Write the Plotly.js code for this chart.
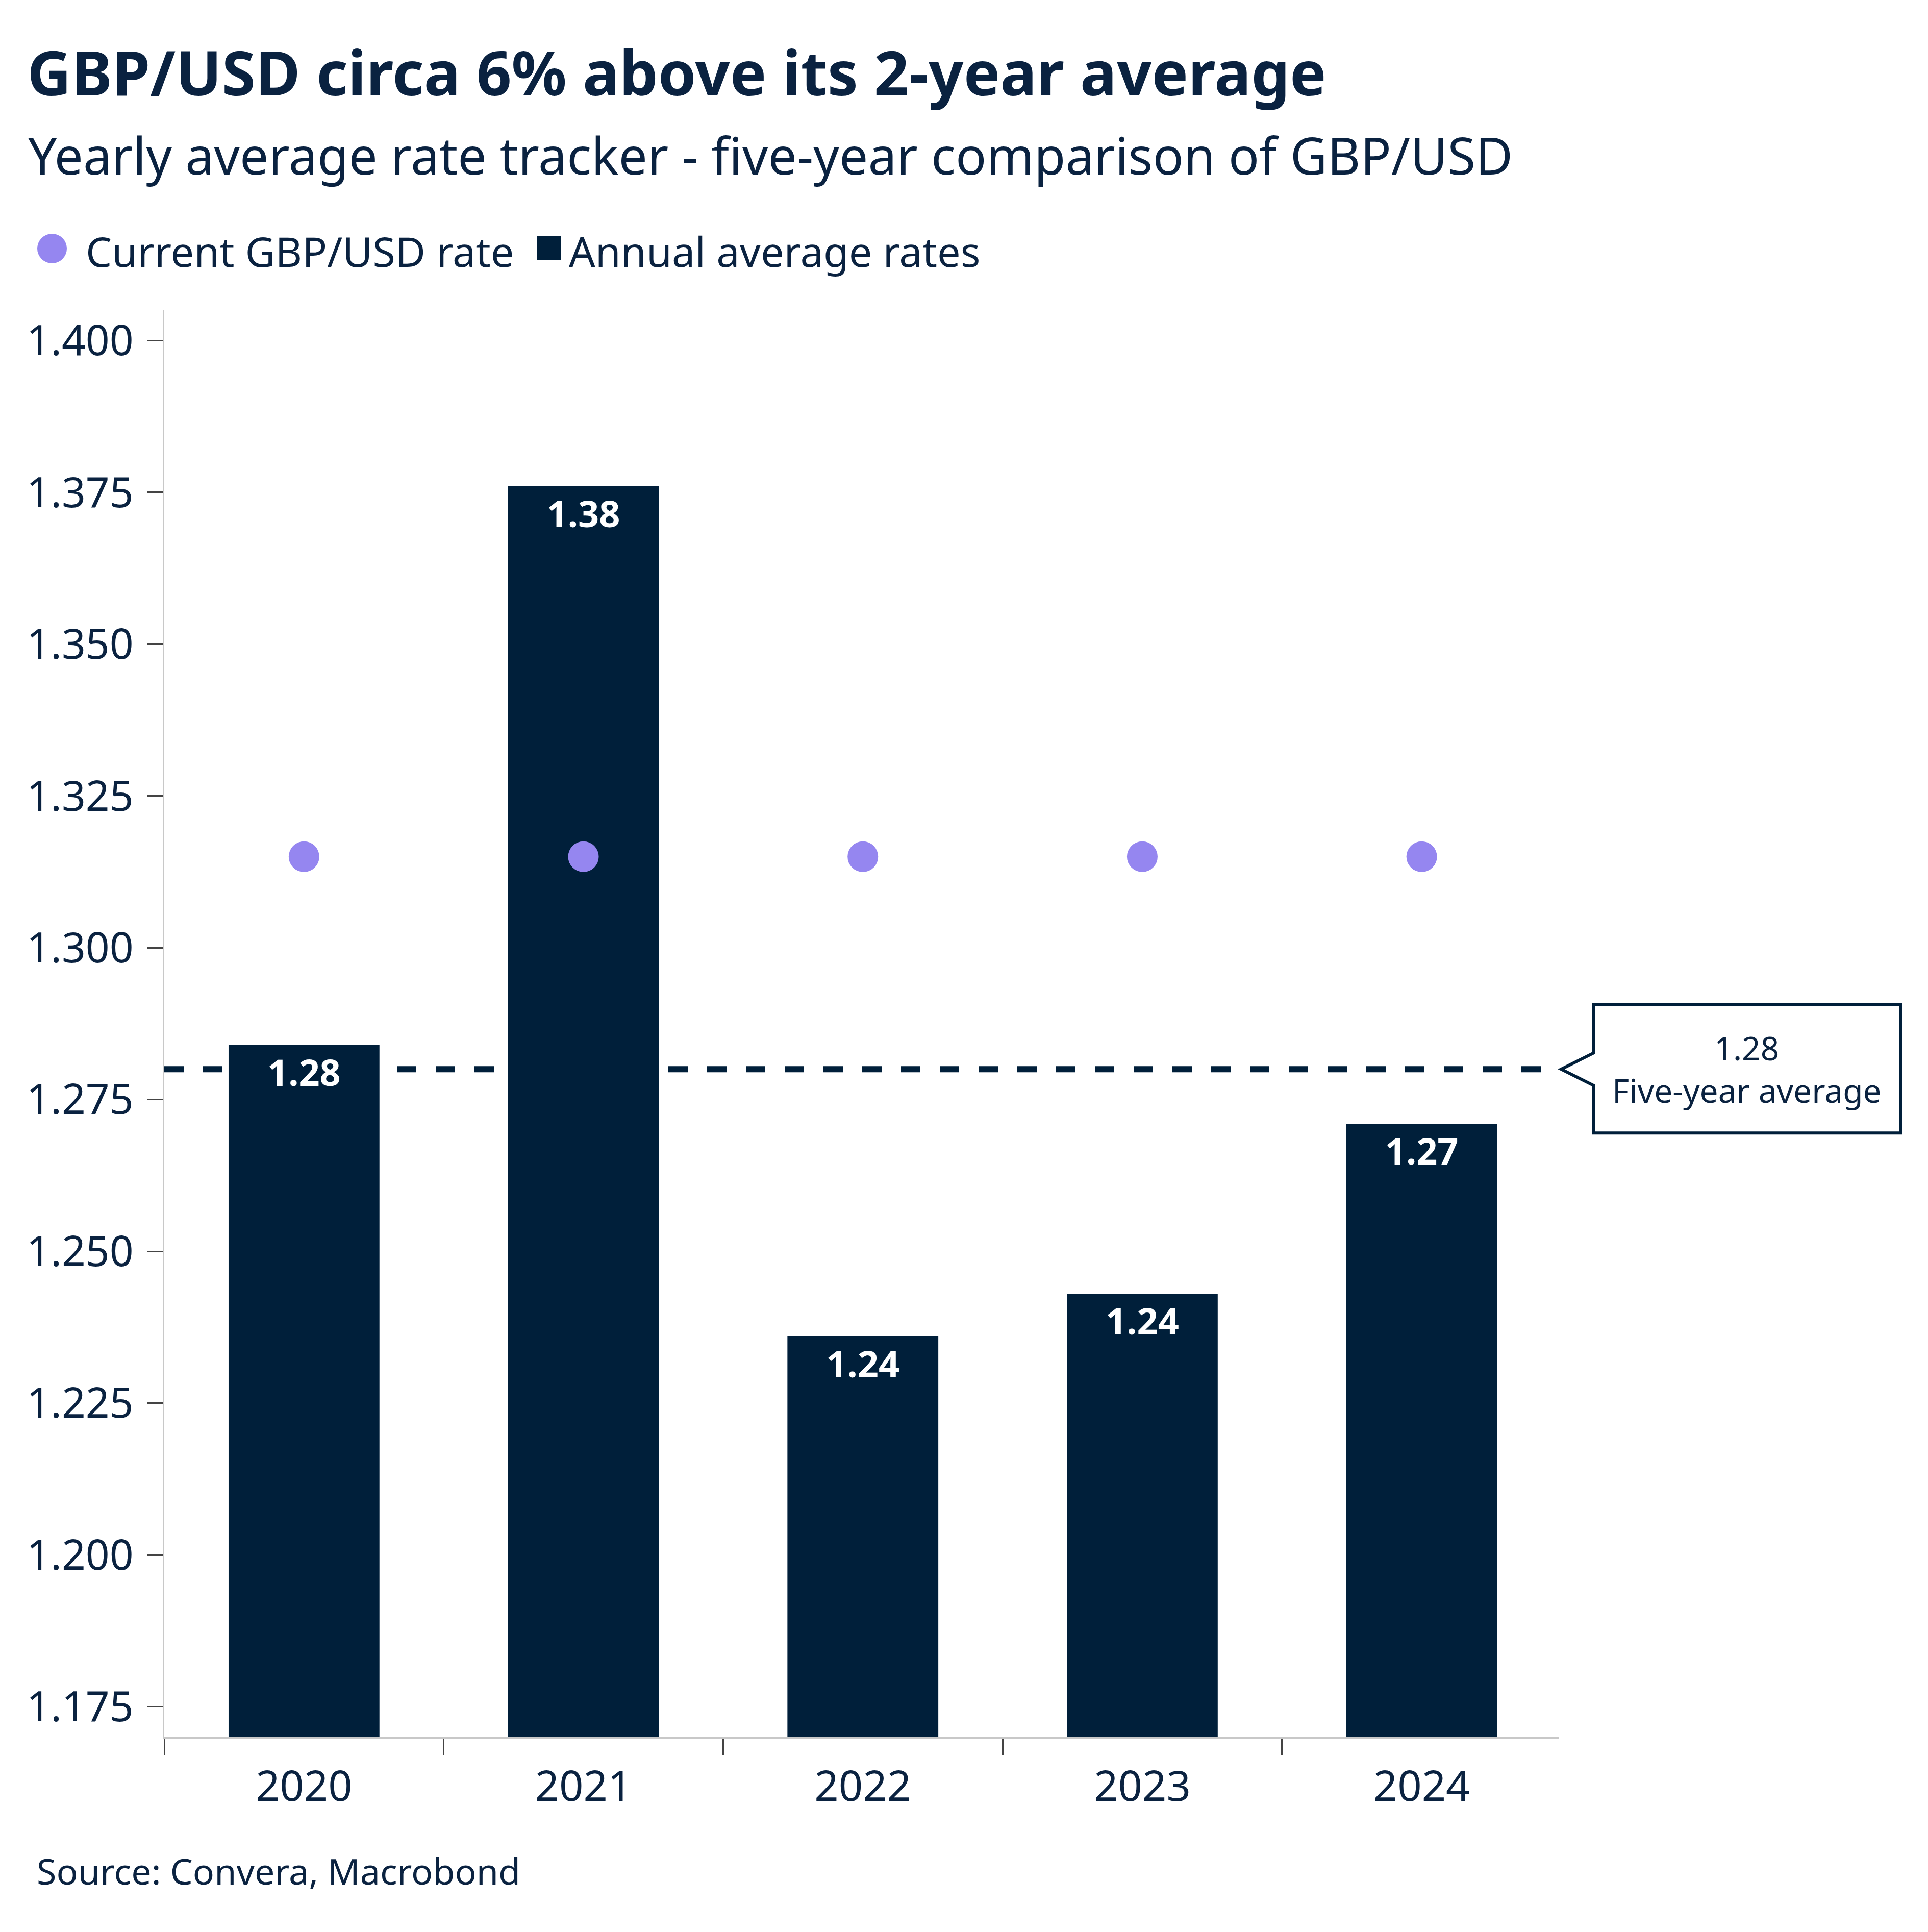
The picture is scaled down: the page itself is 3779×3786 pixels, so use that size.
<!DOCTYPE html>
<html>
<head>
<meta charset="utf-8">
<script src="https://cdn.plot.ly/plotly-3.0.1.min.js"></script>
<style>
  html, body { margin: 0; padding: 0; background: #fff; }
  #chart { width: 3779px; height: 3786px; }
</style>
</head>
<body>
<div id="chart"></div>
<script>
// chart values
const years = ['2020', '2021', '2022', '2023', '2024'];
const annualAverage = [1.284, 1.376, 1.236, 1.243, 1.271];
const currentRate = [1.315, 1.315, 1.315, 1.315, 1.315];
const fiveYearAvg = 1.28;
const yTicks = [1.175, 1.2, 1.225, 1.25, 1.275, 1.3, 1.325, 1.35, 1.375, 1.4];

const navy = '#001f3a';
const textNavy = '#0a2240';
const purple = '#9586f0';
const font = 'Noto Sans, Open Sans, sans-serif';

// plot box in page pixels
const W = 3779, H = 3786;
const L = 322, R = 3055, T = 608, B = 3404;
const px = x => (x - L) / (R - L);
const py = y => (B - y) / (B - T);

const bars = {
  type: 'bar',
  name: 'Annual average rates',
  x: years,
  y: annualAverage,
  marker: { color: navy },
  texttemplate: '%{y:.2f}',
  textposition: 'inside',
  insidetextanchor: 'end',
  textangle: 0,
  textfont: { family: font, size: 72, color: '#ffffff', weight: 'bold' },
  hoverinfo: 'skip'
};

const dots = {
  type: 'scatter',
  mode: 'markers',
  name: 'Current GBP/USD rate',
  x: years,
  y: currentRate,
  marker: { color: purple, size: 60 },
  hoverinfo: 'skip'
};

const layout = {
  width: W,
  height: H,
  margin: { l: L, r: W - R, t: T, b: H - B },
  paper_bgcolor: '#ffffff',
  plot_bgcolor: '#ffffff',
  showlegend: false,
  bargap: 0.46,
  font: { family: font, color: textNavy },
  title: {
    text: '<b>GBP/USD circa 6% above its 2-year average</b>',
    font: { family: font, size: 120, color: textNavy },
    xref: 'container', x: 53 / W, xanchor: 'left',
    yref: 'container', y: 1 - 145 / H, yanchor: 'middle'
  },
  xaxis: {
    type: 'category',
    // right end stops just short of the last boundary so no tick is drawn there
    range: [-0.5, 4.49],
    tickson: 'boundaries',
    ticks: 'outside', ticklen: 33, tickwidth: 3, tickcolor: '#444444',
    ticklabelstandoff: 22,
    showline: true, linecolor: '#c8c8c8', linewidth: 3,
    showgrid: false,
    tickfont: { family: font, size: 83, color: textNavy },
    fixedrange: true
  },
  yaxis: {
    range: [1.17, 1.405],
    tickvals: yTicks,
    tickformat: '.3f',
    ticks: 'outside', ticklen: 31, tickwidth: 3, tickcolor: '#444444',
    ticklabelstandoff: 10,
    showline: true, linecolor: '#c8c8c8', linewidth: 3,
    showgrid: false, zeroline: false,
    tickfont: { family: font, size: 82, color: textNavy },
    fixedrange: true
  },
  shapes: [
    // five-year average line
    {
      type: 'line', layer: 'below',
      xref: 'paper', x0: 0, x1: 1,
      yref: 'y', y0: fiveYearAvg, y1: fiveYearAvg,
      line: { color: navy, width: 12, dash: '38px,38px' }
    },
    // callout box with pointer
    {
      type: 'path',
      xref: 'paper', xanchor: 1, xsizemode: 'pixel',
      yref: 'y', yanchor: fiveYearAvg, ysizemode: 'pixel',
      path: 'M 5 0 L 69 32 L 69 127 L 670 127 L 670 -125 L 69 -125 L 69 -32 Z',
      fillcolor: '#ffffff',
      line: { color: navy, width: 6 }
    },
    // legend symbols
    {
      type: 'circle',
      xref: 'paper', xanchor: px(102), xsizemode: 'pixel',
      yref: 'paper', yanchor: py(487), ysizemode: 'pixel',
      x0: -29, x1: 29, y0: -29, y1: 29,
      fillcolor: purple, line: { width: 0 }
    },
    {
      type: 'rect',
      xref: 'paper', xanchor: px(1076), xsizemode: 'pixel',
      yref: 'paper', yanchor: py(486), ysizemode: 'pixel',
      x0: -23, x1: 23, y0: -24, y1: 24,
      fillcolor: navy, line: { width: 0 }
    }
  ],
  annotations: [
    {
      text: 'Yearly average rate tracker - five-year comparison of GBP/USD',
      xref: 'paper', x: px(53), xanchor: 'left',
      yref: 'paper', y: py(303), yanchor: 'middle',
      showarrow: false,
      font: { family: font, size: 100, color: textNavy }
    },
    {
      text: 'Current GBP/USD rate',
      xref: 'paper', x: px(166), xanchor: 'left',
      yref: 'paper', y: py(492), yanchor: 'middle',
      showarrow: false,
      font: { family: font, size: 81, color: textNavy }
    },
    {
      text: 'Annual average rates',
      xref: 'paper', x: px(1113), xanchor: 'left',
      yref: 'paper', y: py(492), yanchor: 'middle',
      showarrow: false,
      font: { family: font, size: 81, color: textNavy }
    },
    {
      text: fiveYearAvg.toFixed(2) + '<br>Five-year average',
      xref: 'paper', x: px(3424), xanchor: 'center',
      yref: 'y', y: fiveYearAvg, yanchor: 'middle',
      showarrow: false, align: 'center',
      font: { family: font, size: 64, color: textNavy }
    },
    {
      text: 'Source: Convera, Macrobond',
      xref: 'paper', x: px(70), xanchor: 'left',
      yref: 'paper', y: py(3666), yanchor: 'middle',
      showarrow: false,
      font: { family: font, size: 70, color: textNavy }
    }
  ]
};

Plotly.newPlot('chart', [bars, dots], layout, { staticPlot: true, displayModeBar: false });
</script>
</body>
</html>
